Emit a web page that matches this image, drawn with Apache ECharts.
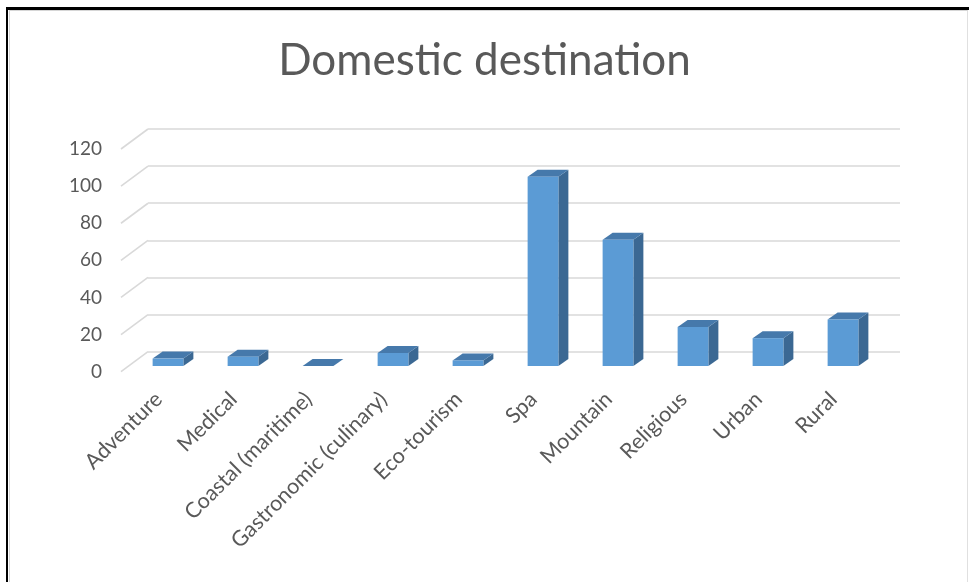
<!DOCTYPE html>
<html>
<head>
<meta charset="utf-8">
<script src="https://cdn.jsdelivr.net/npm/echarts@6/dist/echarts.min.js"></script>
<style>
html,body{margin:0;padding:0;background:#fff;}
#chart{position:absolute;left:0;top:0;width:969px;height:582px;}
#frame{position:absolute;left:6px;top:7px;width:963px;height:575px;border-top:3px solid #000;border-left:2.5px solid #000;box-sizing:border-box;pointer-events:none;}
#inner{position:absolute;left:8.5px;top:10px;width:959px;height:572px;border-top:1.5px solid #d6d6d6;border-left:1.5px solid #d6d6d6;border-right:1.5px solid #e0e0e0;box-sizing:border-box;pointer-events:none;}
</style>
</head>
<body>
<div id="chart"></div>
<div id="inner"></div>
<div id="frame"></div>
<script>
const categories = ['Adventure','Medical','Coastal (maritime)','Gastronomic (culinary)','Eco-tourism','Spa','Mountain','Religious','Urban','Rural'];
const values = [4, 5, 0, 7, 3, 102, 68, 21, 15, 25];
const yTicks = [0, 20, 40, 60, 80, 100, 120];
const titleText = 'Domestic destination';

const FONT = 'Lato, "Open Sans", sans-serif';
const DEPTH_X = 27, DEPTH_Y = -20;      // side wall depth
const BAR_DX = 9.5, BAR_DY = -5.7;      // bar placement inside depth
const TOP_DX = 10, TOP_DY = -7;         // bar depth

const chart = echarts.init(document.getElementById('chart'), null, {renderer: 'canvas'});

const option = {
  backgroundColor: 'transparent',
  animation: false,
  title: {
    text: titleText,
    left: 'center',
    top: 34,
    textStyle: {fontFamily: FONT, fontSize: 44, fontWeight: 'normal', color: '#595959'}
  },
  grid: [
    {left: 121, top: 149, width: 750, height: 222.7},
    {left: 148, top: 129, width: 752, height: 222.7}
  ],
  xAxis: [
    {
      type: 'category', gridIndex: 0, data: categories,
      axisLine: {show: false}, axisTick: {show: false},
      axisLabel: {rotate: 45, margin: 24, interval: 0, fontFamily: FONT, fontSize: 21.5, color: '#595959'}
    },
    {
      type: 'category', gridIndex: 1, data: categories, show: false
    }
  ],
  yAxis: [
    {
      type: 'value', gridIndex: 0, min: 0, max: 120, interval: 20,
      axisLine: {show: false}, axisTick: {show: false}, splitLine: {show: false},
      axisLabel: {margin: 19, fontFamily: FONT, fontSize: 19, color: '#595959'}
    },
    {
      type: 'value', gridIndex: 1, min: 0, max: 120, interval: 20,
      axisLine: {show: false}, axisTick: {show: false}, axisLabel: {show: false},
      splitLine: {show: true, lineStyle: {color: '#d9d9d9', width: 1.6}}
    }
  ],
  series: [
    {
      type: 'custom', xAxisIndex: 0, yAxisIndex: 0, silent: true,
      data: yTicks.map(v => [0, v]),
      renderItem: function (params, api) {
        const p = api.coord([0, api.value(1)]);
        const x0 = params.coordSys.x;
        return {
          type: 'line',
          shape: {x1: x0, y1: p[1], x2: x0 + DEPTH_X, y2: p[1] + DEPTH_Y},
          style: {stroke: '#d9d9d9', lineWidth: 1.6}
        };
      }
    },
    {
      type: 'custom', xAxisIndex: 0, yAxisIndex: 0, silent: true,
      data: values.map((v, i) => [i, v]),
      renderItem: function (params, api) {
        const idx = api.value(0);
        const top = api.coord([idx, api.value(1)]);
        const base = api.coord([idx, 0]);
        const w = api.size([1, 0])[0] * 0.41;
        const xl = top[0] + BAR_DX - w / 2;
        const xr = xl + w;
        const yt = top[1] + BAR_DY;
        const yb = base[1] + BAR_DY;
        return {
          type: 'group',
          children: [
            {
              type: 'polygon',
              shape: {points: [[xr, yt], [xr + TOP_DX, yt + TOP_DY], [xr + TOP_DX, yb + TOP_DY], [xr, yb]]},
              style: {fill: '#3b6893'}
            },
            {
              type: 'polygon',
              shape: {points: [[xl, yt], [xr, yt], [xr + TOP_DX, yt + TOP_DY], [xl + TOP_DX, yt + TOP_DY]]},
              style: {fill: '#4679ab'}
            },
            {
              type: 'rect',
              shape: {x: xl, y: yt, width: w, height: Math.max(0, yb - yt)},
              style: {fill: '#5b9bd5'}
            }
          ]
        };
      }
    }
  ]
};
chart.setOption(option);
</script>
</body>
</html>
